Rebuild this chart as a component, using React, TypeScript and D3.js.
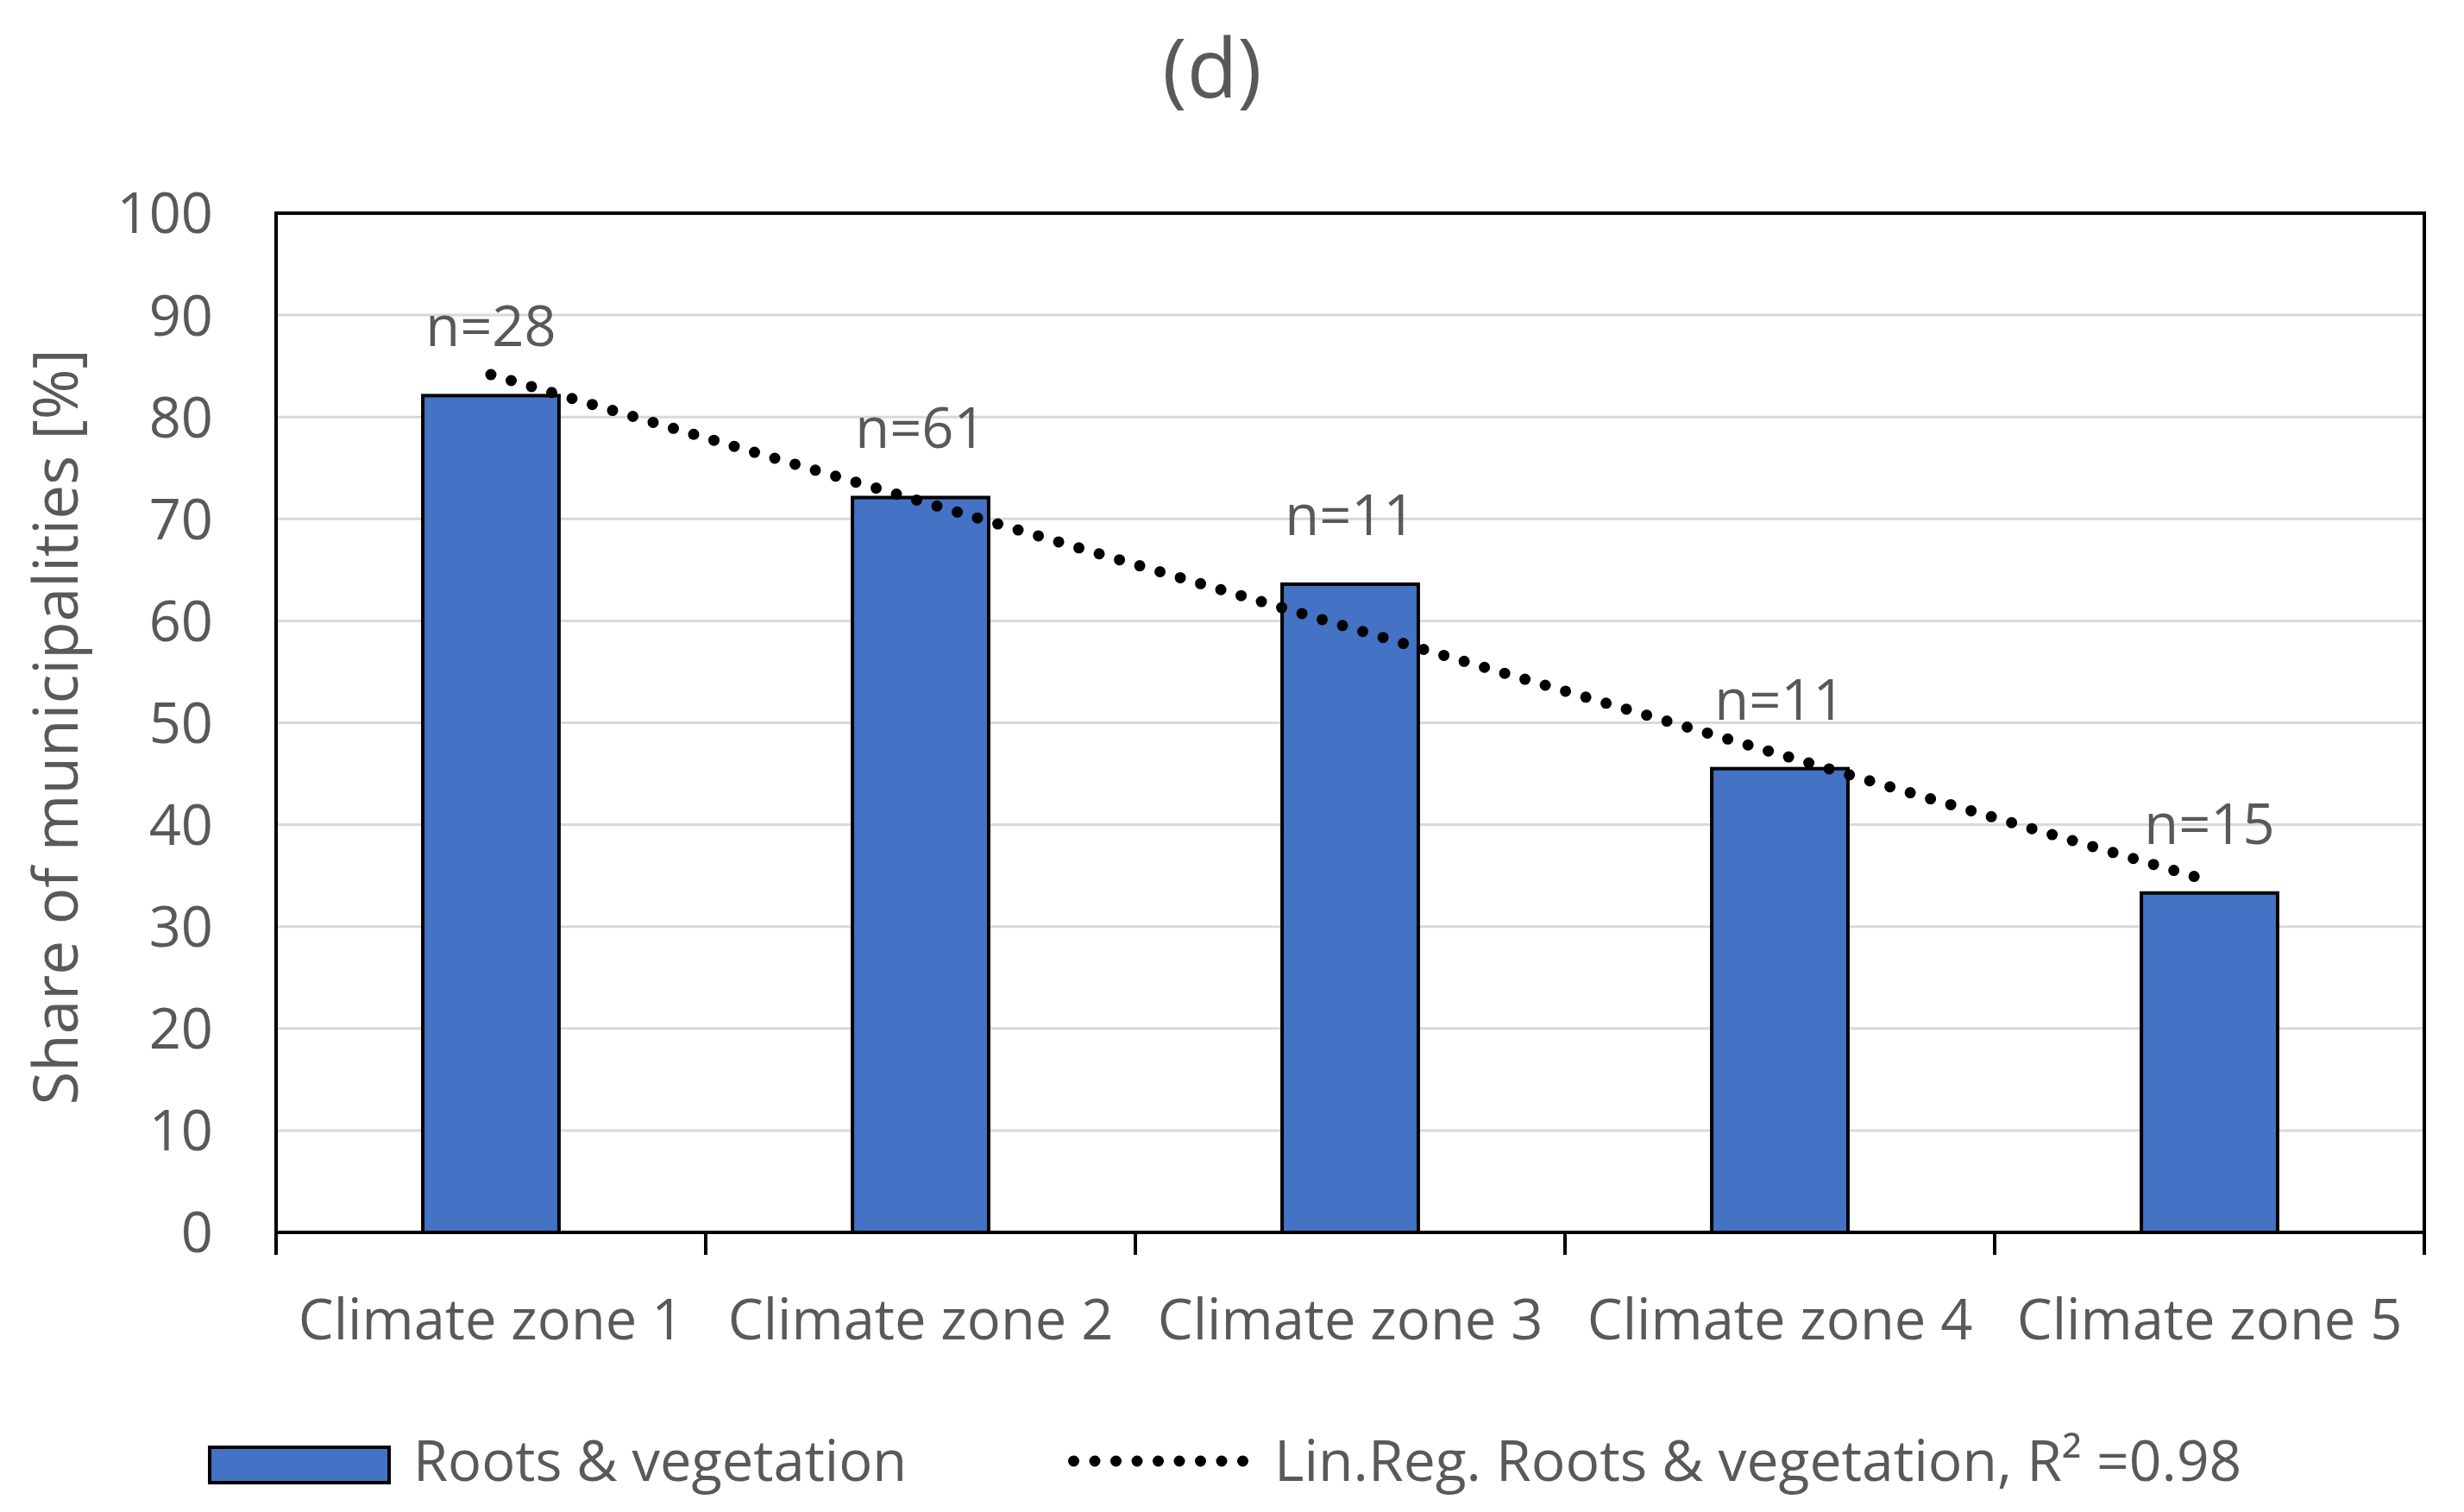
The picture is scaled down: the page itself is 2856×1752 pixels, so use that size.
import { useEffect, useRef } from 'react';
import * as d3 from 'd3';

// values
const categories = ['Climate zone 1', 'Climate zone 2', 'Climate zone 3', 'Climate zone 4', 'Climate zone 5'];
const shares = [82.1, 72.1, 63.6, 45.5, 33.3];
const sampleSizes = [28, 61, 11, 11, 15];
const yTicks = [0, 10, 20, 30, 40, 50, 60, 70, 80, 90, 100];
const seriesName = 'Roots & vegetation';
const trendName = 'Lin.Reg. Roots & vegetation, R² =0.98';

const WIDTH = 2856;
const HEIGHT = 1752;
const FONT = "'Open Sans', sans-serif";
const TEXT_COLOR = '#595959';
const BAR_COLOR = '#4472C4';

const App = () => {
  const svgRef = useRef<SVGSVGElement>(null);

  useEffect(() => {
    if (!svgRef.current) return;
    d3.select(svgRef.current).selectAll('*').remove();

    const plot = { left: 320, right: 2810, top: 247, bottom: 1428 };

    const svg = d3.select(svgRef.current)
      .attr('width', WIDTH)
      .attr('height', HEIGHT)
      .style('font-family', FONT);

    svg.append('rect')
      .attr('width', WIDTH)
      .attr('height', HEIGHT)
      .attr('fill', 'white');

    const x = d3.scaleBand<string>()
      .domain(categories)
      .range([plot.left, plot.right])
      .paddingInner(0.683)
      .paddingOuter(0.683 / 2);

    const y = d3.scaleLinear()
      .domain([0, 100])
      .range([plot.bottom, plot.top]);

    // Gridlines
    svg.append('g')
      .selectAll('line')
      .data(yTicks.filter(t => t > 0 && t < 100))
      .join('line')
      .attr('x1', plot.left)
      .attr('x2', plot.right)
      .attr('y1', d => y(d))
      .attr('y2', d => y(d))
      .attr('stroke', '#d9d9d9')
      .attr('stroke-width', 3);

    // Y tick labels
    svg.append('g')
      .selectAll('text')
      .data(yTicks)
      .join('text')
      .attr('x', 247)
      .attr('y', d => y(d))
      .attr('dy', '0.36em')
      .attr('text-anchor', 'end')
      .attr('fill', TEXT_COLOR)
      .style('font-size', '65px')
      .text(d => d);

    // Y axis title
    svg.append('text')
      .attr('transform', `translate(90,${(plot.top + plot.bottom) / 2 + 5}) rotate(-90)`)
      .attr('text-anchor', 'middle')
      .attr('fill', TEXT_COLOR)
      .style('font-size', '71px')
      .text('Share of municipalities [%]');

    // Bars
    svg.append('g')
      .selectAll('rect')
      .data(shares)
      .join('rect')
      .attr('x', (d, i) => x(categories[i])!)
      .attr('width', x.bandwidth())
      .attr('y', d => y(d))
      .attr('height', d => y(0) - y(d))
      .attr('fill', BAR_COLOR)
      .attr('stroke', 'black')
      .attr('stroke-width', 4);

    // Linear regression over category index
    const idx = shares.map((_, i) => i + 1);
    const mx = d3.mean(idx)!;
    const my = d3.mean(shares)!;
    const slope = d3.sum(idx, (v, i) => (v - mx) * (shares[i] - my)) / d3.sum(idx, v => (v - mx) ** 2);
    const intercept = my - slope * mx;
    const center = (i: number) => x(categories[i])! + x.bandwidth() / 2;

    const trendPts: [number, number][] = [
      [center(0), y(intercept + slope * 1)],
      [center(categories.length - 1), y(intercept + slope * categories.length)],
    ];
    svg.append('path')
      .attr('d', d3.line()(trendPts))
      .attr('fill', 'none')
      .attr('stroke', 'black')
      .attr('stroke-width', 13)
      .attr('stroke-linecap', 'round')
      .attr('stroke-dasharray', '0 24.5');

    // Data labels
    svg.append('g')
      .selectAll('text')
      .data(sampleSizes)
      .join('text')
      .attr('x', (d, i) => center(i))
      .attr('y', (d, i) => y(shares[i]) - 57)
      .attr('text-anchor', 'middle')
      .attr('fill', TEXT_COLOR)
      .style('font-size', '65px')
      .text(d => `n=${d}`);

    // Plot border
    svg.append('rect')
      .attr('x', plot.left)
      .attr('y', plot.top)
      .attr('width', plot.right - plot.left)
      .attr('height', plot.bottom - plot.top)
      .attr('fill', 'none')
      .attr('stroke', 'black')
      .attr('stroke-width', 4);

    // Category boundary ticks
    const step = x.step();
    const bounds = d3.range(categories.length + 1).map(i => plot.left + i * step);
    svg.append('g')
      .selectAll('line')
      .data(bounds)
      .join('line')
      .attr('x1', d => d)
      .attr('x2', d => d)
      .attr('y1', plot.bottom)
      .attr('y2', plot.bottom + 26)
      .attr('stroke', 'black')
      .attr('stroke-width', 4);

    // Category labels
    svg.append('g')
      .selectAll('text')
      .data(categories)
      .join('text')
      .attr('x', d => x(d)! + x.bandwidth() / 2)
      .attr('y', 1552)
      .attr('text-anchor', 'middle')
      .attr('fill', TEXT_COLOR)
      .style('font-size', '65px')
      .text(d => d);

    // Title
    svg.append('text')
      .attr('x', 1405)
      .attr('y', 113)
      .attr('text-anchor', 'middle')
      .attr('fill', TEXT_COLOR)
      .style('font-size', '96px')
      .text('(d)');

    // Legend
    const legend = svg.append('g');
    legend.append('rect')
      .attr('x', 243)
      .attr('y', 1677)
      .attr('width', 208)
      .attr('height', 41)
      .attr('fill', BAR_COLOR)
      .attr('stroke', 'black')
      .attr('stroke-width', 4);
    legend.append('text')
      .attr('x', 479)
      .attr('y', 1716)
      .attr('fill', TEXT_COLOR)
      .style('font-size', '65px')
      .text(seriesName);
    legend.append('path')
      .attr('d', d3.line()([[1244.5, 1693], [1445, 1693]]))
      .attr('stroke', 'black')
      .attr('stroke-width', 13)
      .attr('stroke-linecap', 'round')
      .attr('stroke-dasharray', '0 24.5');
    legend.append('text')
      .attr('x', 1477)
      .attr('y', 1716)
      .attr('fill', TEXT_COLOR)
      .style('font-size', '66px')
      .text(trendName);
  }, []);

  return (
    <svg
      ref={svgRef}
      width={WIDTH}
      height={HEIGHT}
      style={{ position: 'absolute', left: 0, top: 0, display: 'block' }}
    />
  );
};

export default App;
